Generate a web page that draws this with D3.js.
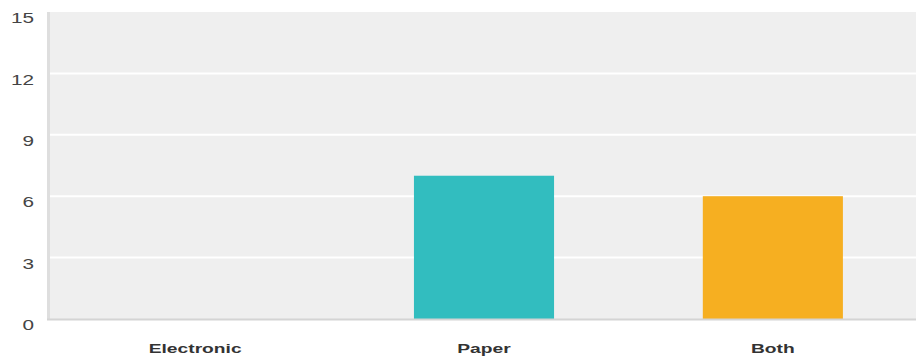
<!DOCTYPE html>
<html>
<head>
<meta charset="utf-8">
<script src="https://cdn.jsdelivr.net/npm/d3@7"></script>
<style>
  html, body { margin: 0; padding: 0; background: #ffffff; }
  svg { display: block; }
</style>
</head>
<body>
<div id="chart"></div>
<script>
// Survey responses by format
const categories = ["Electronic", "Paper", "Both"];
const counts = [0, 7, 6];
const barColors = ["#32bdbf", "#32bdbf", "#f6af21"];
const yTicks = [0, 3, 6, 9, 12, 15];

const width = 916, height = 356;
const plotLeft = 50, plotRight = 916, plotTop = 12, plotBottom = 319;
const textStretch = 1.48;

const svg = d3.select("#chart").append("svg")
  .attr("width", width)
  .attr("height", height);

const x = d3.scaleBand()
  .domain(categories)
  .range([plotLeft, plotRight + 2])
  .paddingInner(0.515)
  .paddingOuter(0.26);

const y = d3.scaleLinear()
  .domain([0, 15])
  .range([plotBottom, plotTop]);

// plot background
svg.append("rect")
  .attr("x", plotLeft)
  .attr("y", plotTop)
  .attr("width", plotRight - plotLeft)
  .attr("height", plotBottom - plotTop)
  .attr("fill", "#efefef");

// horizontal grid lines
svg.append("g")
  .selectAll("line")
  .data(yTicks.filter(t => t > 0 && t < 15))
  .join("line")
  .attr("x1", plotLeft)
  .attr("x2", plotRight)
  .attr("y1", d => y(d))
  .attr("y2", d => y(d))
  .attr("stroke", "#ffffff")
  .attr("stroke-width", 2);

// bars
svg.append("g")
  .selectAll("rect")
  .data(categories.map((c, i) => ({ c, v: counts[i], color: barColors[i] })))
  .join("rect")
  .attr("x", d => x(d.c))
  .attr("y", d => y(d.v))
  .attr("width", x.bandwidth())
  .attr("height", d => y(0) - y(d.v))
  .attr("fill", d => d.color);

// left axis line
svg.append("rect")
  .attr("x", plotLeft - 3)
  .attr("y", plotTop)
  .attr("width", 3)
  .attr("height", plotBottom - plotTop + 1)
  .attr("fill", "#dedede");

// bottom axis line
svg.append("line")
  .attr("x1", plotLeft - 3)
  .attr("x2", plotRight)
  .attr("y1", plotBottom + 0.5)
  .attr("y2", plotBottom + 0.5)
  .attr("stroke", "#d4d4d4")
  .attr("stroke-width", 2);

// y axis labels
const yAxis = d3.axisLeft(y).tickValues(yTicks).tickSize(0).tickPadding(0);
const yg = svg.append("g").call(yAxis);
yg.select(".domain").remove();
yg.selectAll(".tick text")
  .attr("x", null)
  .attr("dy", null)
  .attr("transform", `translate(34,7) scale(${textStretch},1)`)
  .attr("text-anchor", "end")
  .attr("dominant-baseline", "middle")
  .attr("font-family", "'Liberation Sans', Arial, sans-serif")
  .attr("font-size", 14)
  .attr("fill", "#444444");

// x axis labels
const xAxis = d3.axisBottom(x).tickSize(0).tickPadding(0);
const xg = svg.append("g").attr("transform", `translate(0,${plotBottom})`).call(xAxis);
xg.select(".domain").remove();
xg.selectAll(".tick text")
  .attr("y", null)
  .attr("dy", null)
  .attr("transform", `translate(0,34) scale(${textStretch},1)`)
  .attr("text-anchor", "middle")
  .attr("font-family", "'Liberation Sans', Arial, sans-serif")
  .attr("font-weight", "bold")
  .attr("font-size", 13)
  .attr("fill", "#333333");
</script>
</body>
</html>
